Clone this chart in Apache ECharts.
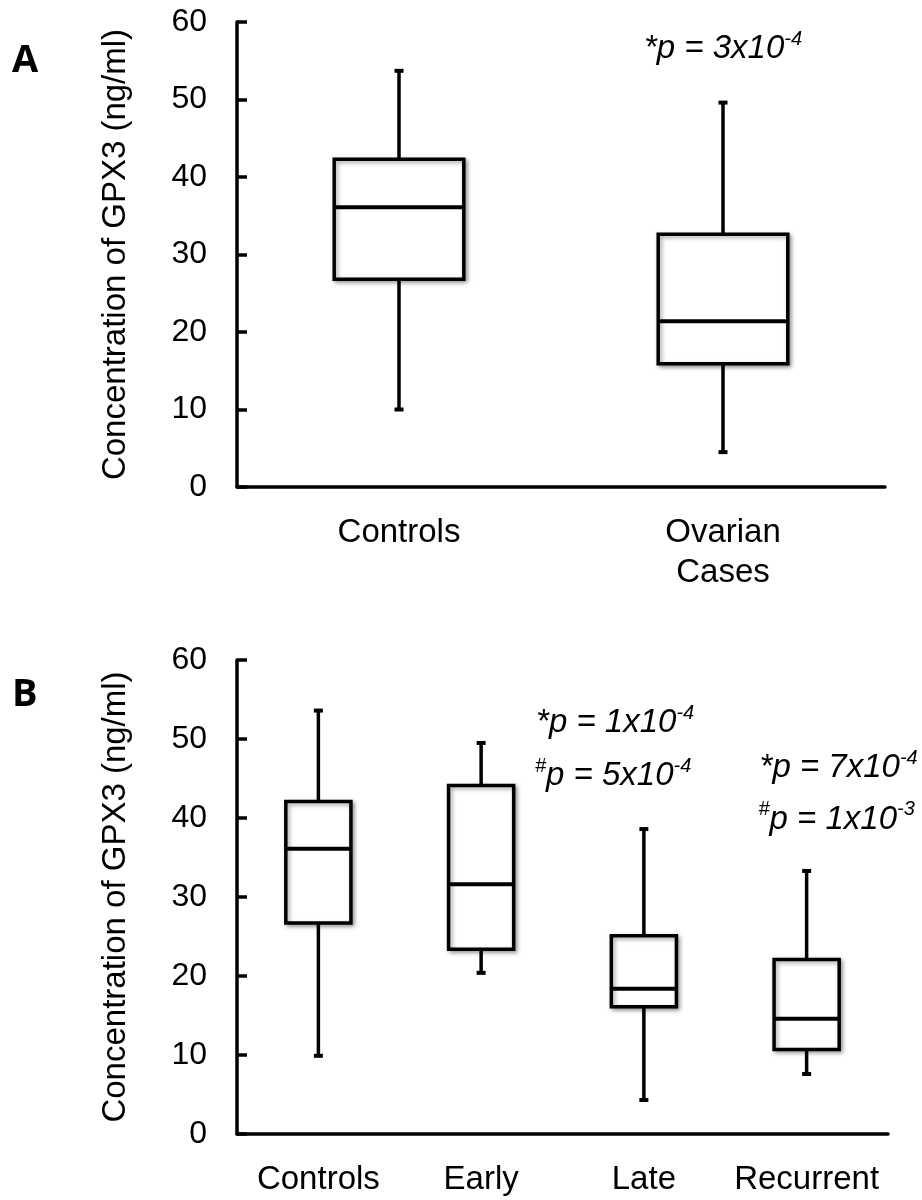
<!DOCTYPE html>
<html>
<head>
<meta charset="utf-8">
<script src="https://cdn.jsdelivr.net/npm/echarts@6/dist/echarts.min.js"></script>
<style>
  html, body { margin: 0; padding: 0; background: #fff; }
  #main { width: 922px; height: 1200px; }
</style>
</head>
<body>
<div id="main"></div>
<script>
// panel A
var catsA = ['Controls', 'Ovarian\nCases'];
var minA = [10.0, 4.5];
var q1A = [26.8, 15.9];
var medA = [36.1, 21.4];
var q3A = [42.3, 32.6];
var maxA = [53.7, 49.6];

// panel B
var catsB = ['Controls', 'Early', 'Late', 'Recurrent'];
var minB = [9.9, 20.4, 4.3, 7.6];
var q1B = [26.7, 23.4, 16.1, 10.7];
var medB = [36.1, 31.6, 18.4, 14.6];
var q3B = [42.1, 44.1, 25.1, 22.1];
var maxB = [53.6, 49.5, 38.6, 33.3];

var yTicks = [0, 60, 10]; // min, max, step

// p-value notes: category index, value, pixel shift, text
var noteCatA = [1];
var noteValA = [56.5];
var noteDxA = [0];
var noteTxtA = ['{n|*p = 3x10}{s|-4}'];

var noteCatB = [1, 1, 3, 3];
var noteValB = [52.0, 45.3, 46.3, 39.8];
var noteDxB = [134, 132, 32, 30];
var noteTxtB = ['{n|*p = 1x10}{s|-4}', '{s|#}{n|p = 5x10}{s|-4}',
                '{n|*p = 7x10}{s|-4}', '{s|#}{n|p = 1x10}{s|-3}'];

var FONT = '"Liberation Sans", Arial, sans-serif';

function boxData(mn, q1, md, q3, mx) {
    var out = [];
    for (var i = 0; i < mn.length; i++) {
        out.push([i, mn[i], q1[i], md[i], q3[i], mx[i]]);
    }
    return out;
}

function renderBox(params, api) {
    var x = api.value(0);
    var pMin = api.coord([x, api.value(1)]);
    var pQ1 = api.coord([x, api.value(2)]);
    var pMed = api.coord([x, api.value(3)]);
    var pQ3 = api.coord([x, api.value(4)]);
    var pMax = api.coord([x, api.value(5)]);
    var w = api.size([1, 0])[0] * 0.4;
    var cx = pMed[0];
    var line = { stroke: '#000', lineWidth: 3.5 };
    var cap = { stroke: '#000', lineWidth: 4 };
    return {
        type: 'group',
        children: [
            { type: 'line', shape: { x1: cx, y1: pQ3[1], x2: cx, y2: pMax[1] }, style: line },
            { type: 'line', shape: { x1: cx, y1: pQ1[1], x2: cx, y2: pMin[1] }, style: line },
            { type: 'line', shape: { x1: cx - 4.5, y1: pMax[1], x2: cx + 4.5, y2: pMax[1] }, style: cap },
            { type: 'line', shape: { x1: cx - 4.5, y1: pMin[1], x2: cx + 4.5, y2: pMin[1] }, style: cap },
            {
                type: 'rect',
                shape: { x: cx - w / 2, y: pQ3[1], width: w, height: pQ1[1] - pQ3[1] },
                style: {
                    fill: '#fff', stroke: '#000', lineWidth: 3.5,
                    shadowBlur: 4, shadowOffsetX: 2, shadowOffsetY: 2,
                    shadowColor: 'rgba(0,0,0,0.35)'
                }
            },
            { type: 'line', shape: { x1: cx - w / 2, y1: pMed[1], x2: cx + w / 2, y2: pMed[1] },
              style: { stroke: '#000', lineWidth: 4 } }
        ]
    };
}

var richNote = {
    n: { fontSize: 33, fontStyle: 'italic', fontFamily: FONT, color: '#000', lineHeight: 40 },
    s: { fontSize: 20, fontStyle: 'italic', fontFamily: FONT, color: '#000', lineHeight: 20, verticalAlign: 'top' }
};

function noteRenderer(cats, vals, dxs, txts) {
    return function (params, api) {
        var i = params.dataIndex;
        var p = api.coord([cats[i], vals[i]]);
        return {
            type: 'text',
            x: p[0] + dxs[i],
            y: p[1],
            style: {
                text: txts[i],
                rich: richNote,
                align: 'center',
                verticalAlign: 'middle',
                textAlign: 'center',
                textVerticalAlign: 'middle'
            }
        };
    };
}

function noteData(cats, vals) {
    var out = [];
    for (var i = 0; i < cats.length; i++) out.push([cats[i], vals[i]]);
    return out;
}

function xAxisOf(idx, cats) {
    return {
        gridIndex: idx,
        type: 'category',
        data: cats,
        boundaryGap: true,
        axisLine: { lineStyle: { color: '#000', width: 3.5 } },
        axisTick: { show: false },
        axisLabel: { interval: 0, color: '#000', fontSize: 33, fontFamily: FONT, margin: 26, lineHeight: 40 },
        splitLine: { show: false }
    };
}

function yAxisOf(idx) {
    return {
        gridIndex: idx,
        type: 'value',
        min: yTicks[0],
        max: yTicks[1],
        interval: yTicks[2],
        name: 'Concentration of GPX3 (ng/ml)',
        nameLocation: 'middle',
        nameGap: 105,
        nameTextStyle: { color: '#000', fontSize: 33, fontFamily: FONT },
        axisLine: { show: true, lineStyle: { color: '#000', width: 3.5 } },
        axisTick: { show: true, inside: true, length: 10, lineStyle: { color: '#000', width: 3.5 } },
        axisLabel: { color: '#000', fontSize: 32, fontFamily: FONT, margin: 30 },
        splitLine: { show: false }
    };
}

var chart = echarts.init(document.getElementById('main'));
var option = {
    backgroundColor: '#fff',
    animation: false,
    grid: [
        { left: 237, top: 22, width: 648, height: 465 },
        { left: 237, top: 660, width: 651, height: 475 }
    ],
    xAxis: [xAxisOf(0, catsA), xAxisOf(1, catsB)],
    yAxis: [yAxisOf(0), yAxisOf(1)],
    graphic: [
        { type: 'text', left: 12, top: 42, style: { text: 'A', font: 'bold 38px "Open Sans", sans-serif', fill: '#000' } },
        { type: 'text', left: 12, top: 676, style: { text: 'B', font: 'bold 38px "Open Sans", sans-serif', fill: '#000' } }
    ],
    series: [
        {
            type: 'custom', xAxisIndex: 0, yAxisIndex: 0,
            renderItem: renderBox,
            encode: { x: 0, y: [1, 2, 3, 4, 5] },
            data: boxData(minA, q1A, medA, q3A, maxA)
        },
        {
            type: 'custom', xAxisIndex: 1, yAxisIndex: 1,
            renderItem: renderBox,
            encode: { x: 0, y: [1, 2, 3, 4, 5] },
            data: boxData(minB, q1B, medB, q3B, maxB)
        },
        {
            type: 'custom', xAxisIndex: 0, yAxisIndex: 0, silent: true,
            renderItem: noteRenderer(noteCatA, noteValA, noteDxA, noteTxtA),
            data: noteData(noteCatA, noteValA)
        },
        {
            type: 'custom', xAxisIndex: 1, yAxisIndex: 1, silent: true,
            renderItem: noteRenderer(noteCatB, noteValB, noteDxB, noteTxtB),
            data: noteData(noteCatB, noteValB)
        }
    ]
};
chart.setOption(option);
</script>
</body>
</html>
